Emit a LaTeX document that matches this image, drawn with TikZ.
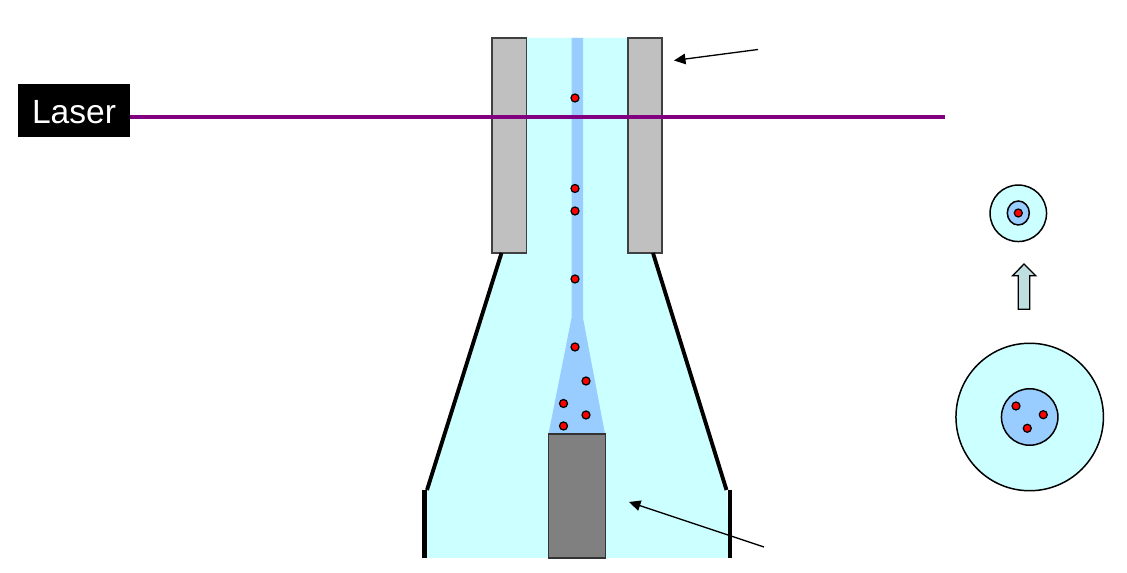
\documentclass[tikz,border=0pt]{standalone}
\usepackage{xcolor}
\usepackage{fontspec}
\setmainfont{Liberation Sans}
\usetikzlibrary{shapes.geometric, arrows.meta}
\definecolor{sheathcyan}{HTML}{CCFFFF}
\definecolor{corefill}{HTML}{99CCFF}
\definecolor{beampurple}{HTML}{800080}
\definecolor{wallgray}{HTML}{C0C0C0}
\definecolor{nozzlegray}{HTML}{808080}
\definecolor{pointerfill}{HTML}{BFDFDF}

\begin{document}
\begin{tikzpicture}[
    x=0.02cm, y=-0.02cm,
    cell/.style={circle, draw=black, fill=red, inner sep=0pt, minimum size=0.16cm, line width=0.7pt},
    wall/.style={draw=black!75, fill=wallgray, line width=1pt},
    funnel_line/.style={line width=2.2pt, draw=black},
    callout/.style={draw=black, line width=0.75pt, -{Triangle[length=0.23cm, width=0.21cm]}},
    sheath_disc/.style={circle, draw=black, fill=sheathcyan, inner sep=0pt, line width=0.85pt},
    core_disc/.style={draw=black, fill=corefill, inner sep=0pt, line width=0.85pt}
]
    \useasboundingbox (0, 0) rectangle (1127, 573);

    % Sheath and sample stream
    \fill [sheathcyan] (526, 38) -- (628, 38) -- (628, 253) -- (653, 253) -- (727, 490) -- (729, 558)
        -- (425, 558) -- (426, 490) -- (501, 253) -- (526, 253) -- cycle;
    \fill [corefill] (571.5, 38) -- (583, 38) -- (583, 318) -- (605, 434) -- (548.5, 434) -- (571.5, 318) -- cycle;

    % Cells in the stream
    \node (cell1) [cell] at (575, 98) {};
    \node (cell2) [cell] at (575, 188.5) {};
    \node (cell3) [cell] at (575, 211) {};
    \node (cell4) [cell] at (575, 279) {};
    \node (cell5) [cell] at (575, 347) {};
    \node (cell6) [cell] at (586, 381) {};
    \node (cell7) [cell] at (563.5, 403.5) {};
    \node (cell8) [cell] at (586, 415) {};
    \node (cell9) [cell] at (563.5, 426) {};

    % Flow cell walls
    \draw [wall] (492, 38) rectangle (526.5, 253);
    \draw [wall] (628, 38) rectangle (662, 253);
    \draw [funnel_line] (501.5, 253) -- (427, 490);
    \draw [funnel_line] (653, 253) -- (726.5, 490);
    \draw [line width=2.5pt] (424.5, 490) -- (424.5, 558);
    \draw [line width=2.5pt] (730, 490) -- (730, 558);

    % Sample nozzle
    \draw [draw=black!80, fill=nozzlegray, line width=0.8pt] (548.5, 434) rectangle (605.5, 558);

    % Laser and beam
    \node (laser) [fill=black, text=white, font=\fontsize{19.1}{23}\selectfont, text height=15pt, text depth=0pt, minimum width=2.24cm, minimum height=1.07cm, inner sep=0pt] at (74, 110.3) {Laser};
    \coordinate (beam_end) at (945, 117);
    \coordinate (beam_start) at (laser.east |- beam_end);
    \draw [draw=beampurple, line width=2.45pt] (beam_start) -- (beam_end);

    % Pointer arrows
    \coordinate (wall_tail) at (758, 49.5);
    \coordinate (wall_tip) at (674, 60.5);
    \coordinate (nozzle_tail) at (764, 547);
    \coordinate (nozzle_tip) at (629, 502);
    \draw [callout] (wall_tail) -- (wall_tip);
    \draw [callout] (nozzle_tail) -- (nozzle_tip);

    % Cross sections
    \node (top_sheath) [sheath_disc, minimum size=1.13cm] at (1018.3, 213.3) {};
    \node (top_core) [core_disc, ellipse, minimum width=0.44cm, minimum height=0.48cm] at (1018.3, 213) {};
    \node (top_cell) [cell] at (1018.3, 213) {};
    \node (bottom_sheath) [sheath_disc, minimum size=2.95cm] at (1029.7, 417) {};
    \node (bottom_core) [core_disc, circle, minimum size=1.13cm] at (1029.7, 417) {};
    \node (bottom_cell1) [cell] at (1016, 406) {};
    \node (bottom_cell2) [cell] at (1043.3, 414.7) {};
    \node (bottom_cell3) [cell] at (1027.3, 428.3) {};

    % Focusing arrow
    \draw [draw=black, fill=pointerfill, line width=0.75pt] (1024, 264) -- (1035.7, 275.7) -- (1029.7, 275.7) -- (1029.7, 309.3)
        -- (1018.3, 309.3) -- (1018.3, 275.7) -- (1012.7, 275.7) -- cycle;
\end{tikzpicture}
\end{document}
